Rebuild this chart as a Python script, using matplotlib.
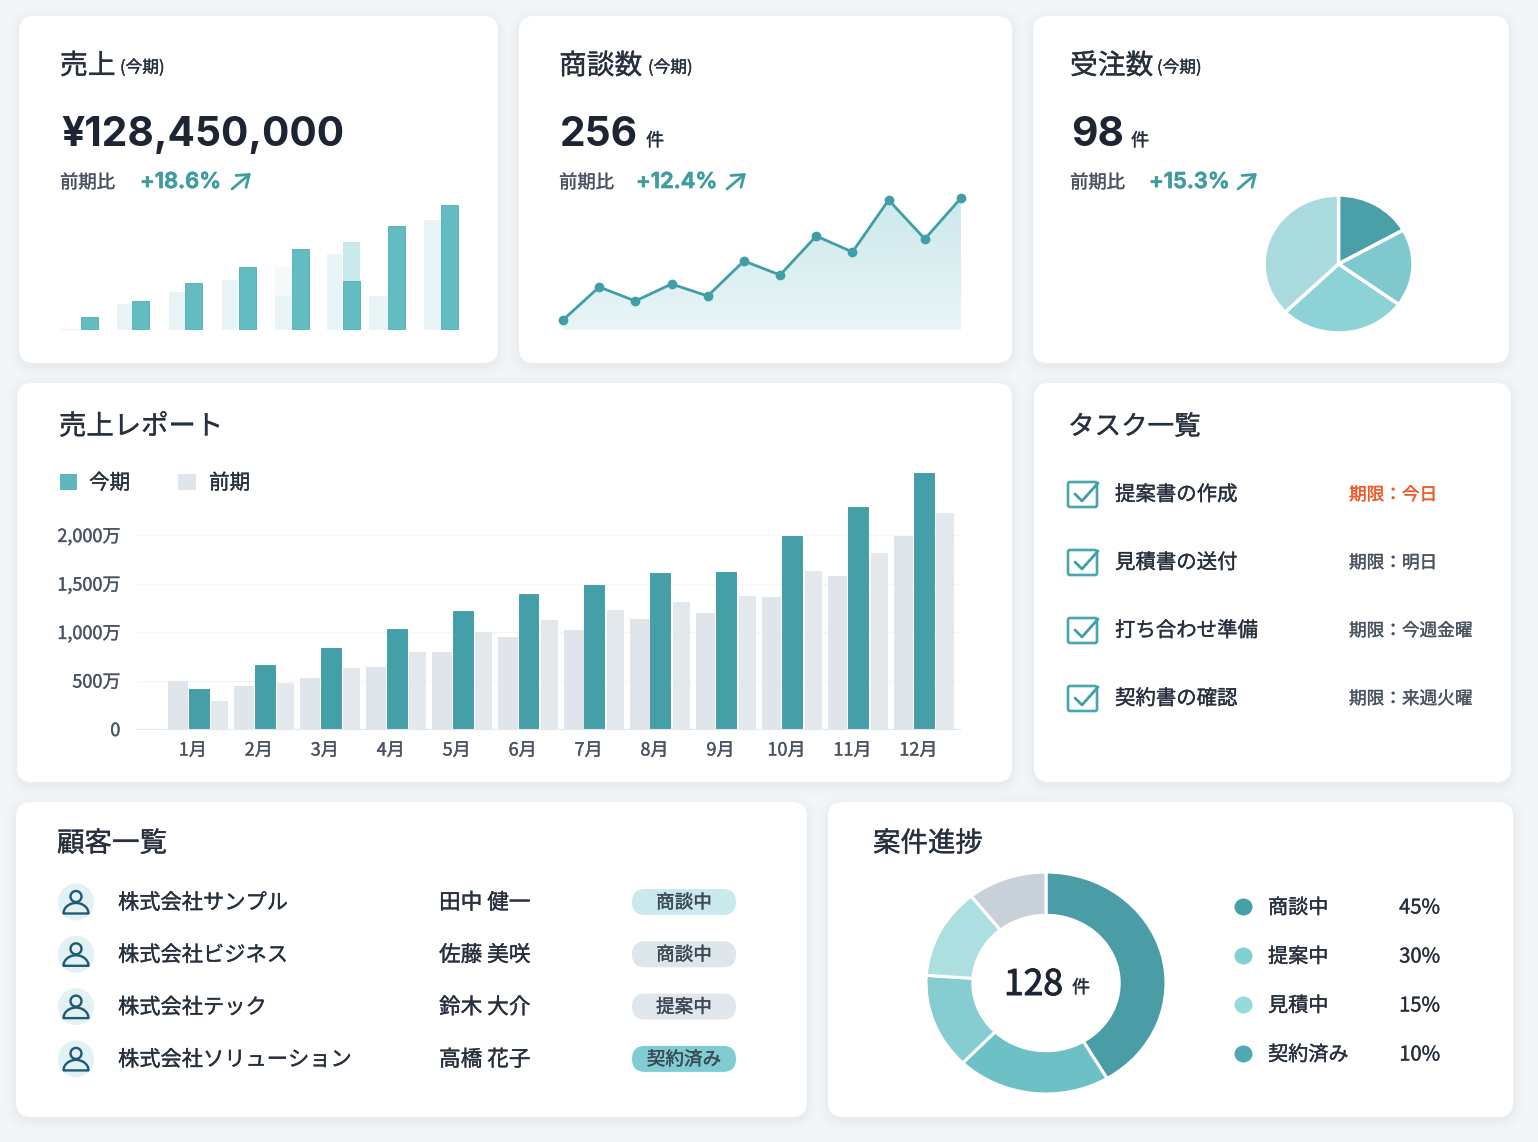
import numpy as np
import matplotlib
matplotlib.use("Agg")
import matplotlib.pyplot as plt
import matplotlib.patheffects as pe
from matplotlib.patches import FancyBboxPatch, Circle, Ellipse, Polygon, Rectangle
from matplotlib.colors import LinearSegmentedColormap

plt.rcParams['font.family'] = ['Noto Sans CJK JP', 'DejaVu Sans']

W, H = 1538, 1142
INK = '#27303d'
GRAY_TXT = '#4a5360'
TEAL = '#449fa8'
TEAL_TXT = '#3f9d9f'
GRAY_BAR = '#dfe5ea'

# ---- data ----
months = ['1月', '2月', '3月', '4月', '5月', '6月', '7月', '8月', '9月', '10月', '11月', '12月']
current = [412, 656, 835, 1031, 1213, 1392, 1485, 1608, 1615, 1990, 2289, 2636]
prior_a = [491, 440, 522, 636, 797, 948, 1024, 1130, 1199, 1361, 1581, 1990]
prior_b = [289, 477, 629, 797, 997, 1127, 1223, 1309, 1375, 1629, 1814, 2227]
y_ticks = [0, 500, 1000, 1500, 2000]
y_labels = ['0', '500万', '1,000万', '1,500万', '2,000万']

mini_x = [89, 140.5, 193.5, 247, 300.5, 351, 396.5, 449.5]
mini_cur = [13, 29, 47, 63, 81, 49, 104, 125]
mini_top = [0, 0, 0, 0, 0, 39, 0, 0]
mini_prev_x = [70, 124.5, 177, 230, 283.5, 334.5, 378.5, 432.7]
mini_prev_w = [20, 14.5, 16.5, 16.5, 17, 14.5, 18.5, 16.7]
mini_prev = [1, 26, 38, 50, 34, 76, 34, 110]
mini_prev_top = [0, 0, 0, 0, 29, 0, 0, 0]

deals = [10, 43, 29, 46, 34, 69, 55, 94, 78, 130, 91, 132]
orders_share = [16.8, 18.2, 27.7, 37.3]
orders_colors = ['#4a9fa8', '#7fc8cd', '#8dd2d6', '#a9dbde']

donut_share = [41.5, 20.7, 13.9, 13.2, 10.7]
donut_colors = ['#4a9da6', '#6cc0c6', '#85cdd1', '#aedfe0', '#c8d1da']
stage_names = ['商談中', '提案中', '見積中', '契約済み']
stage_pct = ['45%', '30%', '15%', '10%']
stage_dots = ['#46a0a9', '#80d0d4', '#98d9dc', '#4fa9b1']

tasks = ['提案書の作成', '見積書の送付', '打ち合わせ準備', '契約書の確認']
dues = ['期限：今日', '期限：明日', '期限：今週金曜', '期限：来週火曜']
due_colors = ['#ef5a2b', GRAY_TXT, GRAY_TXT, GRAY_TXT]

companies = ['株式会社サンプル', '株式会社ビジネス', '株式会社テック', '株式会社ソリューション']
contacts = ['田中 健一', '佐藤 美咲', '鈴木 大介', '高橋 花子']
statuses = ['商談中', '商談中', '提案中', '契約済み']
status_colors = ['#c9e9ec', '#dde6eb', '#dfe7ec', '#7fcdd2']

fig = plt.figure(figsize=(W / 100, H / 100), dpi=100, facecolor='#f3f6f8')
bg = fig.add_axes([0, 0, 1, 1])
bg.set_xlim(0, W)
bg.set_ylim(H, 0)
bg.axis('off')


def px_axes(left, top, right, bottom):
    a = fig.add_axes([left / W, 1 - bottom / H, (right - left) / W, (bottom - top) / H])
    a.patch.set_alpha(0)
    return a


def card(x0, y0, x1, y1, r=15):
    for grow, alpha in [(10, .010), (7, .012), (4, .015), (2, .018)]:
        bg.add_patch(FancyBboxPatch((x0 - grow, y0 - grow + 3), x1 - x0 + 2 * grow, y1 - y0 + 2 * grow,
                                    boxstyle=f'round,pad=0,rounding_size={r + grow}',
                                    fc='#5f7f95', ec='none', alpha=alpha, zorder=1))
    bg.add_patch(FancyBboxPatch((x0, y0), x1 - x0, y1 - y0, boxstyle=f'round,pad=0,rounding_size={r}',
                                fc='white', ec='none', zorder=2))


for c in [(19, 16, 498, 363), (519, 16, 1012, 363), (1033, 16, 1509, 363),
          (17, 383, 1012, 782), (1034, 383, 1511, 782),
          (16, 802, 807, 1117), (828, 802, 1513, 1117)]:
    card(*c)


def T(x, y, s, size=14, color=INK, weight='normal', ha='left', stroke=0.25, family=None):
    t = bg.text(x, y, s, fontsize=size, color=color, fontweight=weight, ha=ha, va='center', zorder=5)
    if family:
        t.set_fontfamily(family)
    if stroke:
        t.set_path_effects([pe.withStroke(linewidth=stroke, foreground=color)])
    return t


def arrow(x0, y0, x1, y1):
    bg.annotate('', xy=(x1, y1), xytext=(x0, y0), zorder=5,
                arrowprops=dict(arrowstyle='->,head_length=0.55,head_width=0.4', color=TEAL_TXT, lw=2.0,
                                shrinkA=0, shrinkB=0, mutation_scale=14))


# ---- KPI cards ----
for x, name, sx in [(60, '売上', 120), (559, '商談数', 648), (1070, '受注数', 1157)]:
    T(x, 66, name, 20)
    T(sx, 68, '(今期)', 12)

LATIN = ['Inter', 'DejaVu Sans']
T(61, 135, '¥128,450,000', 29.3, '#1d2533', 'bold', stroke=0, family=LATIN)
T(560, 135, '256', 29.3, '#1d2533', 'bold', stroke=0, family=LATIN)
T(646, 141, '件', 13)
T(1071, 135, '98', 29.3, '#1d2533', 'bold', stroke=0, family=LATIN)
T(1131, 141, '件', 13)

for x, px, s, ax0 in [(60, 140, '+18.6%', 232), (559, 636, '+12.4%', 727), (1070, 1149, '+15.3%', 1238)]:
    T(x, 183, '前期比', 13.2, GRAY_TXT)
    T(px, 182, s, 15.8, TEAL_TXT, 'semibold', stroke=0.5, family=LATIN)
    arrow(ax0, 189, ax0 + 19, 173)

# mini bars
m = px_axes(55, 189, 470, 330)
m.axis('off')
m.set_xlim(55, 470)
m.set_ylim(0, 141)
m.bar(mini_prev_x, mini_prev, width=mini_prev_w, color='#e9f4f6')
m.bar(mini_prev_x, mini_prev_top, bottom=mini_prev, width=mini_prev_w, color='#f4f9fa')
m.bar(mini_x, mini_cur, width=17, color='#63bcc2', edgecolor='#4fadb4', linewidth=0.6)
m.bar(mini_x, mini_top, bottom=mini_cur, width=17, color='#c8e8ea')

# deals line
l = px_axes(563, 189, 961, 330)
l.axis('off')
xs = np.arange(len(deals))
poly = Polygon(list(zip(xs, deals)) + [(11, 0), (0, 0)], closed=True, fc='none', ec='none')
l.add_patch(poly)
grad = LinearSegmentedColormap.from_list('g', ['#cbe8eb', '#e9f5f6'])
im = l.imshow(np.linspace(0, 1, 64).reshape(-1, 1), extent=[0, 11, 0, 141], cmap=grad, aspect='auto', origin='upper')
im.set_clip_path(poly)
l.set_xlim(0, 11)
l.set_ylim(0, 141)
l.plot(xs, deals, color='#3f9ea6', lw=2.0, marker='o', ms=6, clip_on=False)

# orders pie
p = px_axes(1264, 195, 1413, 333)
p.pie(orders_share, colors=orders_colors, startangle=90, counterclock=False, radius=1,
      wedgeprops=dict(edgecolor='white', linewidth=2.5))
p.set_aspect('auto')
p.set_xlim(-1, 1)
p.set_ylim(-1, 1)

# ---- sales report ----
T(59, 427, '売上レポート', 19.7)
bg.add_patch(Rectangle((60, 474), 17, 16, fc='#5db7bd', zorder=5))
T(89, 483, '今期', 14.8)
bg.add_patch(Rectangle((178, 474), 18, 16, fc=GRAY_BAR, zorder=5))
T(209, 483, '前期', 14.8)

a = px_axes(137, 460, 960, 729)
step = 65.96
a.set_xlim((137 - 198.7) / step, (960 - 198.7) / step)
a.set_ylim(0, 269 / 0.097)
idx = np.arange(len(months))
a.set_axisbelow(True)
a.grid(axis='y', color='#f3f5f7', lw=1)
a.bar(idx - 0.315, prior_a, width=0.30, color=GRAY_BAR)
a.bar(idx + 0.315, prior_b, width=0.26, color='#e3e8ed')
a.bar(idx, current, width=0.303, color=TEAL, edgecolor='#3b97a0', linewidth=0.6)
for s in ['top', 'left', 'right']:
    a.spines[s].set_visible(False)
a.spines['bottom'].set_color('#e3e8ec')
a.set_xticks(idx - 0.09, months)
a.set_yticks(y_ticks, y_labels)
a.tick_params(length=0, labelsize=13, labelcolor=GRAY_TXT)
a.tick_params(axis='x', pad=9)
a.tick_params(axis='y', pad=12)
for lab in a.get_xticklabels() + a.get_yticklabels():
    lab.set_path_effects([pe.withStroke(linewidth=0.25, foreground=GRAY_TXT)])

# ---- tasks ----
T(1068, 427, 'タスク一覧', 19.1)
for i, (t, d, dc) in enumerate(zip(tasks, dues, due_colors)):
    y = 494 + 68 * i
    bg.add_patch(FancyBboxPatch((1068, y - 12), 29, 25, boxstyle='round,pad=0,rounding_size=2',
                                fc='none', ec='#4aa6ae', lw=1.9, zorder=5))
    bg.plot([1075, 1082, 1098], [y, y + 7, y - 11], color='#3f9fa8', lw=2.0, zorder=6,
            solid_capstyle='round')
    T(1115, y + 1, t, 14.7)
    T(1349, y + 1, d, 12.7, dc)

# ---- customers ----
T(57, 844, '顧客一覧', 19.8)
th = np.linspace(np.pi, 0, 40)
for i, (co, ct, st, sc) in enumerate(zip(companies, contacts, statuses, status_colors)):
    y = 902 + 52.3 * i
    bg.add_patch(Ellipse((76, y), 36, 37, fc='#e2f1f4', ec='none', zorder=4))
    bg.add_patch(Circle((76, y - 5.5), 5.5, fc='none', ec='#1f5a73', lw=1.7, zorder=5))
    dome = list(zip(76 + 12.5 * np.cos(th), y + 11.5 - 10.5 * np.sin(th)))
    bg.add_patch(Polygon(dome, closed=True, fc='none', ec='#1f5a73', lw=1.7, joinstyle='round', zorder=5))
    T(118, y + 1, co, 15.3)
    T(439, y + 1, ct, 15.6)
    bg.add_patch(FancyBboxPatch((632, y - 13), 104, 26, boxstyle='round,pad=0,rounding_size=13',
                                fc=sc, ec='none', zorder=4))
    T(684, y + 1, st, 13.4, '#3c4856', ha='center')

# ---- progress ----
T(873, 844, '案件進捗', 19.8)
d = px_axes(926, 872, 1166, 1094)
d.pie(donut_share, colors=donut_colors, startangle=90, counterclock=False, radius=1,
      wedgeprops=dict(width=0.39, edgecolor='white', linewidth=2.2))
d.set_aspect('auto')
d.set_xlim(-1, 1)
d.set_ylim(-1, 1)
T(1004, 985, '128', 25.5, '#1d2533', stroke=0.7)
T(1072, 988, '件', 13)
for i, (n, q, col) in enumerate(zip(stage_names, stage_pct, stage_dots)):
    y = 907 + 49 * i
    bg.add_patch(Ellipse((1243.5, y), 18, 17, fc=col, ec='none', zorder=5))
    T(1268, y + 1, n, 14.5)
    T(1440, y + 1, q, 14.5, ha='right')

fig.savefig('out.png', dpi=100, facecolor=fig.get_facecolor())
